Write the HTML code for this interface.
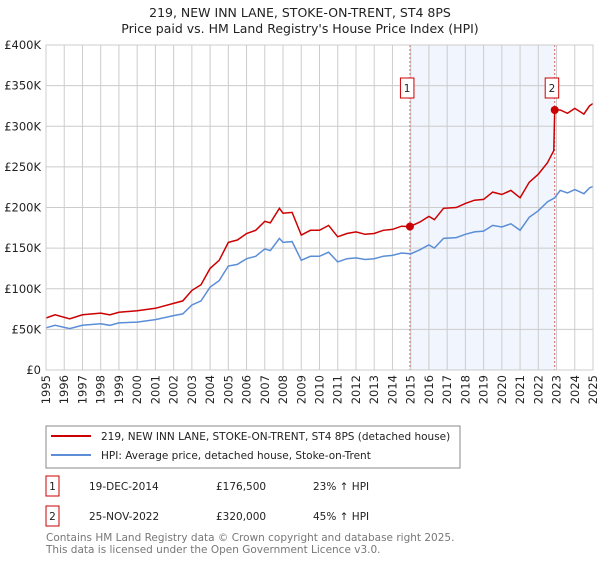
<!DOCTYPE html>
<html><head><meta charset="utf-8"><style>
body{margin:0;background:#fff;font-family:"Liberation Sans","DejaVu Sans",sans-serif;}
svg text{font-family:"DejaVu Sans","Liberation Sans",sans-serif;}
</style></head><body>
<svg id="c" width="600" height="560" xmlns="http://www.w3.org/2000/svg">
<text x="300" y="17" text-anchor="middle" font-size="12.5" fill="#222">219, NEW INN LANE, STOKE-ON-TRENT, ST4 8PS</text>
<text x="300" y="33" text-anchor="middle" font-size="12.5" fill="#222">Price paid vs. HM Land Registry's House Price Index (HPI)</text>
<g id="plot"></g>
<g>
<rect x="46" y="426" width="414" height="42" fill="#fff" stroke="#888"/>
<line x1="51" y1="436" x2="91" y2="436" stroke="#cc0000" stroke-width="2"/>
<text x="101" y="440" font-size="10.5" fill="#222">219, NEW INN LANE, STOKE-ON-TRENT, ST4 8PS (detached house)</text>
<line x1="51" y1="455" x2="91" y2="455" stroke="#5b8ed6" stroke-width="2"/>
<text x="101" y="459" font-size="10.5" fill="#222">HPI: Average price, detached house, Stoke-on-Trent</text>
</g>
<g font-size="10.5" fill="#222">
<rect x="46" y="476" width="13" height="20" fill="#fff" stroke="#cc0000"/>
<text x="52.5" y="490" text-anchor="middle">1</text>
<text x="89" y="490">19-DEC-2014</text>
<text x="216" y="490">£176,500</text>
<text x="313" y="490">23% ↑ HPI</text>
<rect x="46" y="506" width="13" height="20" fill="#fff" stroke="#cc0000"/>
<text x="52.5" y="520" text-anchor="middle">2</text>
<text x="89" y="520">25-NOV-2022</text>
<text x="216" y="520">£320,000</text>
<text x="313" y="520">45% ↑ HPI</text>
</g>
<text x="46" y="541" font-size="10.5" fill="#777">Contains HM Land Registry data © Crown copyright and database right 2025.</text>
<text x="46" y="553" font-size="10.5" fill="#777">This data is licensed under the Open Government Licence v3.0.</text>
</svg>
<script>
const hpiDates=[1995,1995.5,1996.3,1997,1998,1998.5,1999,2000,2001,2002,2002.5,2003,2003.5,2004,2004.5,2005,2005.5,2006,2006.5,2007,2007.3,2007.8,2008,2008.5,2009,2009.5,2010,2010.5,2011,2011.5,2012,2012.5,2013,2013.5,2014,2014.5,2015,2015.5,2016,2016.3,2016.8,2017.5,2018,2018.5,2019,2019.5,2020,2020.5,2021,2021.5,2022,2022.5,2022.9,2023.2,2023.6,2024,2024.5,2024.8,2025];
const hpiValues=[52,55,51,55,57,55,58,59,62,67,69,80,85,102,110,128,130,137,140,149,147,162,157,158,135,140,140,145,133,137,138,136,137,140,141,144,143,148,154,150,162,163,167,170,171,178,176,180,172,188,196,207,212,221,218,222,217,224,226];
const priceDates=[1995,1995.5,1996.3,1997,1998,1998.5,1999,2000,2001,2002,2002.5,2003,2003.5,2004,2004.5,2005,2005.5,2006,2006.5,2007,2007.3,2007.8,2008,2008.5,2009,2009.5,2010,2010.5,2011,2011.5,2012,2012.5,2013,2013.5,2014,2014.5,2014.96,2015.5,2016,2016.3,2016.8,2017.5,2018,2018.5,2019,2019.5,2020,2020.5,2021,2021.5,2022,2022.5,2022.85,2022.9,2023.2,2023.6,2024,2024.5,2024.8,2025];
const priceValues=[64,68,63,68,70,68,71,73,76,82,85,98,105,125,135,157,160,168,172,183,181,199,193,194,166,172,172,178,164,168,170,167,168,172,173,177,176.5,182,189,185,199,200,205,209,210,219,216,221,212,231,241,255,270,320,320,316,322,315,325,328];
const sales=[[2014.96,176.5],[2022.9,320]];
const yTicks=[0,50,100,150,200,250,300,350,400];
const yLabels=["£0","£50K","£100K","£150K","£200K","£250K","£300K","£350K","£400K"];
const xYears=[1995,1996,1997,1998,1999,2000,2001,2002,2003,2004,2005,2006,2007,2008,2009,2010,2011,2012,2013,2014,2015,2016,2017,2018,2019,2020,2021,2022,2023,2024,2025];
const X0=46,X1=593,Y0=370,Y1=45;
const xs=d=>X0+(d-1995)/30*(X1-X0);
const ys=v=>Y0-v/400*(Y0-Y1);
const NS="http://www.w3.org/2000/svg";
const g=document.getElementById('plot');
function mk(t,a){const e=document.createElementNS(NS,t);for(const k in a)e.setAttribute(k,a[k]);g.appendChild(e);return e;}
let e=mk('rect',{x:xs(sales[0][0]),y:Y1,width:xs(sales[1][0])-xs(sales[0][0]),height:Y0-Y1,fill:'#eef3fd',opacity:0.8});


yTicks.forEach((t,i)=>{
 let l=mk('line',{x1:X0,x2:X1,y1:ys(t),y2:ys(t),stroke:'#ccc','stroke-width':1});
 
 
 let tx=mk('text',{x:X0-5,y:ys(t)+4,'text-anchor':'end','font-size':11.5,fill:'#222'});
 tx.textContent=yLabels[i];
 
 
});
xYears.forEach(yr=>{
 let l=mk('line',{x1:xs(yr),x2:xs(yr),y1:Y1,y2:Y0,stroke:'#ccc','stroke-width':1});
 
 
 let tx=mk('text',{x:0,y:0,'font-size':11.5,fill:'#222','text-anchor':'end',transform:`translate(${xs(yr)+4},${Y0+5}) rotate(-90)`});
 tx.textContent=yr;
 
 
});
sales.forEach((s,i)=>{
 let l=mk('line',{x1:xs(s[0]),x2:xs(s[0]),y1:Y1,y2:Y0,stroke:'#e06060','stroke-width':1,'stroke-dasharray':'2,2'});
 
 
});
function line(d,v,c,n){
 let p=mk('path',{d:d.map((x,i)=>(i?'L':'M')+xs(x).toFixed(1)+','+ys(v[i]).toFixed(1)).join(''),fill:'none',stroke:c,'stroke-width':1.5});
 
 
}
line(hpiDates,hpiValues,'#5b8ed6','hpi-line');
line(priceDates,priceValues,'#cc0000','price-line');
sales.forEach((s,i)=>{
 let c=mk('circle',{cx:xs(s[0]),cy:ys(s[1]),r:4,fill:'#cc0000'});
 
 
 let r=mk('rect',{x:xs(s[0])-9.5,y:78,width:13.5,height:20,fill:'#fff',stroke:'#cc0000'});
 
 
 let t=mk('text',{x:xs(s[0])-2.8,y:92,'text-anchor':'middle','font-size':10.5,fill:'#222'});
 t.textContent=i+1;
 
 
});
let b=mk('rect',{x:X0,y:Y1,width:X1-X0,height:Y0-Y1,fill:'none',stroke:'#ccc'});


</script>
</body></html>
